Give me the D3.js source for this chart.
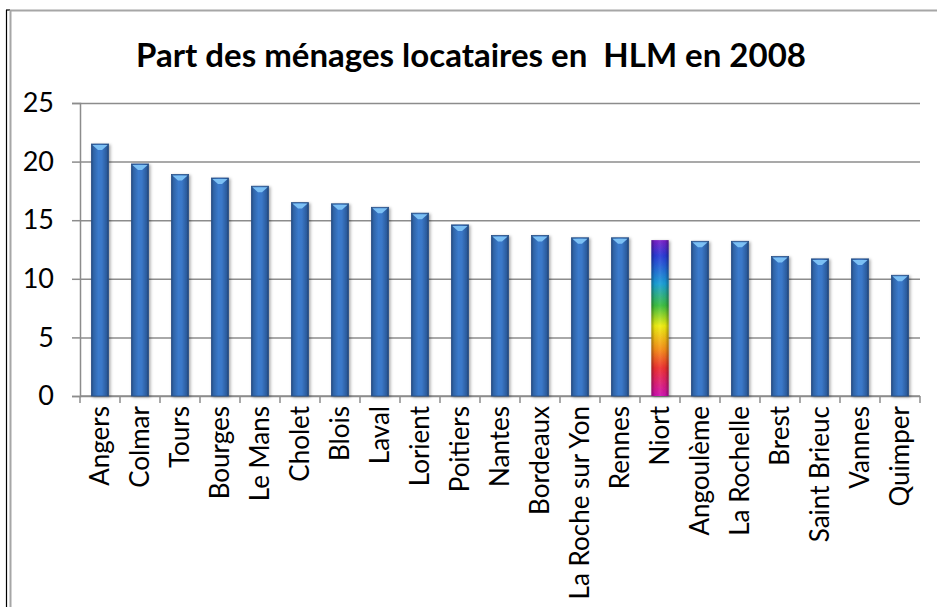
<!DOCTYPE html>
<html>
<head>
<meta charset="utf-8">
<script src="https://cdn.jsdelivr.net/npm/d3@7"></script>
<style>
  body { margin: 0; background: #fff; }
  svg { display: block; font-family: Lato, "Open Sans", sans-serif; }
</style>
</head>
<body>
<div id="chart"></div>
<script>
// data
const villes = ["Angers", "Colmar", "Tours", "Bourges", "Le Mans", "Cholet", "Blois", "Laval",
  "Lorient", "Poitiers", "Nantes", "Bordeaux", "La Roche sur Yon", "Rennes", "Niort",
  "Angoulème", "La Rochelle", "Brest", "Saint Brieuc", "Vannes", "Quimper"];
const parts = [21.5, 19.8, 18.9, 18.6, 17.9, 16.5, 16.4, 16.1, 15.6, 14.6, 13.7, 13.7,
  13.5, 13.5, 13.3, 13.2, 13.2, 11.9, 11.7, 11.7, 10.3];
const yTicks = [0, 5, 10, 15, 20, 25];
const highlight = "Niort";
const titre = "Part des ménages locataires en\u00a0 HLM en 2008";

const W = 937, H = 607;
const margin = { top: 103, right: 17, bottom: 211, left: 80 };
const width = W - margin.left - margin.right,
      height = H - margin.top - margin.bottom;

const svg = d3.select("#chart").append("svg")
  .attr("width", W).attr("height", H);

const defs = svg.append("defs");

// horizontal cylinder shading for the blue bars
const gBlue = defs.append("linearGradient").attr("id", "blue")
  .attr("x1", 0).attr("x2", 1).attr("y1", 0).attr("y2", 0);
[[0, "#24487a"], [0.12, "#2f63a6"], [0.4, "#3b7acb"], [0.6, "#3a78c8"], [0.88, "#2c5c9e"], [1, "#203f6c"]]
  .forEach(s => gBlue.append("stop").attr("offset", s[0]).attr("stop-color", s[1]));

// rainbow for the highlighted city
const gRain = defs.append("linearGradient").attr("id", "rain")
  .attr("x1", 0).attr("x2", 0).attr("y1", 0).attr("y2", 1);
[[0, "#7a1fc8"], [0.1, "#2a3ad8"], [0.28, "#1aa0d8"], [0.42, "#3cc040"], [0.55, "#f0f010"],
 [0.7, "#f89018"], [0.82, "#f03030"], [1, "#d010b0"]]
  .forEach(s => gRain.append("stop").attr("offset", s[0]).attr("stop-color", s[1]));

// dark edges on top of the rainbow
const gEdge = defs.append("linearGradient").attr("id", "edge")
  .attr("x1", 0).attr("x2", 1).attr("y1", 0).attr("y2", 0);
[[0, "#000", 0.35], [0.2, "#000", 0.05], [0.5, "#fff", 0.08], [0.8, "#000", 0.05], [1, "#000", 0.35]]
  .forEach(s => gEdge.append("stop").attr("offset", s[0]).attr("stop-color", s[1]).attr("stop-opacity", s[2]));

const shadow = defs.append("filter").attr("id", "shadow")
  .attr("x", "-50%").attr("y", "-10%").attr("width", "200%").attr("height", "120%");
shadow.append("feDropShadow").attr("dx", 1.5).attr("dy", 1).attr("stdDeviation", 1.5)
  .attr("flood-color", "#000").attr("flood-opacity", 0.35);

// outer frame
svg.append("line").attr("x1", 6.5).attr("x2", 6.5).attr("y1", 10).attr("y2", H)
  .attr("stroke", "#000").attr("stroke-width", 1.2);
svg.append("line").attr("x1", 6).attr("x2", 10).attr("y1", 10).attr("y2", 10)
  .attr("stroke", "#000").attr("stroke-width", 1.2);
svg.append("line").attr("x1", 10.5).attr("x2", 10.5).attr("y1", 10).attr("y2", H)
  .attr("stroke", "#a6a6a6").attr("stroke-width", 2);
svg.append("line").attr("x1", 10).attr("x2", W).attr("y1", 10.5).attr("y2", 10.5)
  .attr("stroke", "#a6a6a6").attr("stroke-width", 2);

svg.append("text")
  .attr("x", 471).attr("y", 67)
  .attr("text-anchor", "middle")
  .attr("font-weight", "bold")
  .attr("font-size", "33px")
  .attr("fill", "#000")
  .text(titre);

const g = svg.append("g")
  .attr("transform", "translate(" + margin.left + "," + margin.top + ")");

let xScale = d3.scaleBand()
  .domain(villes)
  .range([0, width])
  .padding(0);

let yScale = d3.scaleLinear()
  .domain([0, 25])
  .range([height, 0]);

// gridlines
g.append("g")
  .call(d3.axisLeft(yScale).tickValues(yTicks).tickSize(-width).tickFormat(""))
  .call(a => a.select(".domain").remove())
  .selectAll("line").attr("stroke", "#8c8c8c").attr("stroke-width", 1.5);

// y axis
let yAxis = d3.axisLeft(yScale).tickValues(yTicks).tickSize(8).tickPadding(18);
g.append("g")
  .call(yAxis)
  .call(a => a.select(".domain").attr("stroke", "#8c8c8c").attr("stroke-width", 1.5))
  .call(a => a.selectAll("line").attr("stroke", "#8c8c8c").attr("stroke-width", 1.5))
  .call(a => a.selectAll("text").attr("font-size", "27px").attr("fill", "#000")
    .attr("font-family", "Lato, sans-serif"));

// x axis: ticks between categories
const xAxisG = g.append("g").attr("transform", "translate(0," + height + ")");
xAxisG.append("line").attr("x1", 0).attr("x2", width)
  .attr("stroke", "#8c8c8c").attr("stroke-width", 1.5);
xAxisG.selectAll(".sep").data(d3.range(villes.length + 1)).join("line")
  .attr("x1", i => i * xScale.step()).attr("x2", i => i * xScale.step())
  .attr("y1", 0).attr("y2", 7)
  .attr("stroke", "#8c8c8c").attr("stroke-width", 1.5);
xAxisG.selectAll(".lab").data(villes).join("text")
  .attr("transform", d => "translate(" + (xScale(d) + xScale.bandwidth() / 2) + ",10) rotate(-90)")
  .attr("text-anchor", "end")
  .attr("dy", "0.35em")
  .attr("font-size", "26px")
  .attr("fill", "#000")
  .text(d => d);

// bars
const barW = xScale.bandwidth() * 0.43;
const bars = g.selectAll(".barre").data(villes).join("g")
  .attr("class", "barre")
  .attr("filter", "url(#shadow)");

bars.append("rect")
  .attr("x", d => xScale(d) + (xScale.bandwidth() - barW) / 2)
  .attr("y", (d, i) => yScale(parts[i]))
  .attr("width", barW)
  .attr("height", (d, i) => height - yScale(parts[i]))
  .attr("fill", d => d == highlight ? "url(#rain)" : "url(#blue)")
  .attr("stroke", d => d == highlight ? "none" : "#2a5288")
  .attr("stroke-width", 0.8);

bars.filter(d => d == highlight).append("rect")
  .attr("x", d => xScale(d) + (xScale.bandwidth() - barW) / 2)
  .attr("y", (d, i) => yScale(parts[villes.indexOf(d)]))
  .attr("width", barW)
  .attr("height", d => height - yScale(parts[villes.indexOf(d)]))
  .attr("fill", "url(#edge)");

// light bevel on top of the blue bars
bars.filter(d => d != highlight).append("path")
  .attr("d", d => {
    const x0 = xScale(d) + (xScale.bandwidth() - barW) / 2;
    const y0 = yScale(parts[villes.indexOf(d)]);
    return "M" + (x0 + 1) + "," + (y0 + 1) + "L" + (x0 + barW - 1) + "," + (y0 + 1) +
      "L" + (x0 + barW / 2 + 2) + "," + (y0 + 6) + "L" + (x0 + barW / 2 - 2) + "," + (y0 + 6) + "Z";
  })
  .attr("fill", "#7cc0f4");
</script>
</body>
</html>
